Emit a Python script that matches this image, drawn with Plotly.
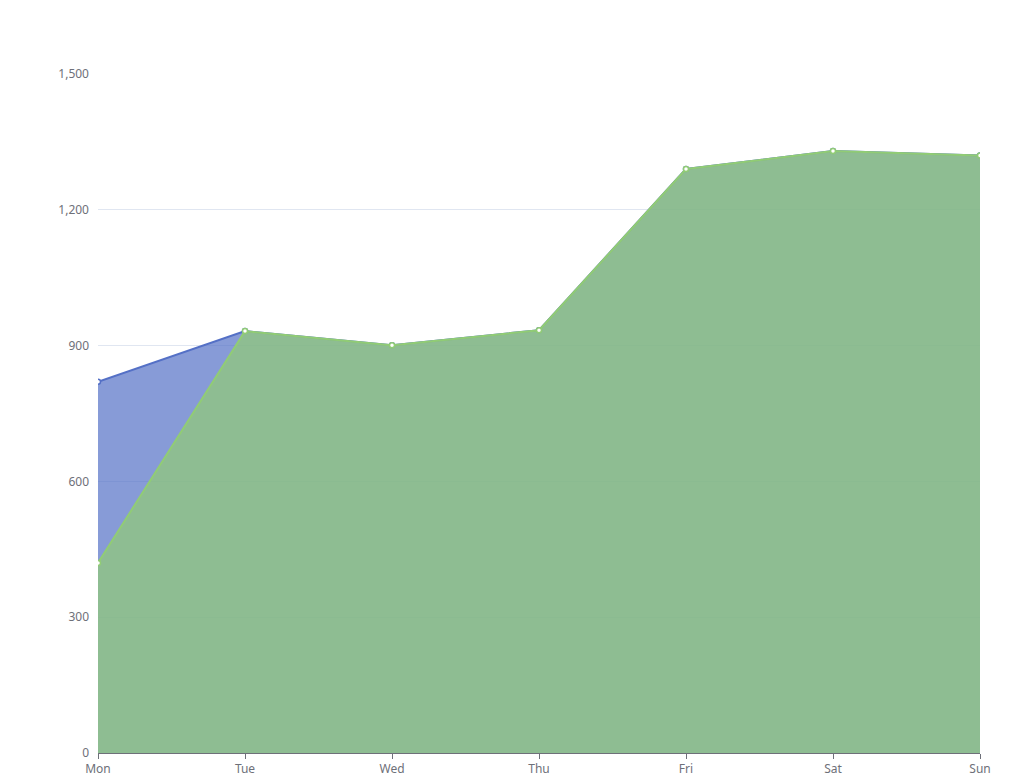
import plotly.graph_objects as go

days = ["Mon", "Tue", "Wed", "Thu", "Fri", "Sat", "Sun"]
series_a = [820, 932, 901, 934, 1290, 1330, 1320]
series_b = [420, 932, 901, 934, 1290, 1330, 1320]

fig = go.Figure()
for vals, col, fillc in [(series_a, "#5470c6", "rgba(84,112,198,0.7)"),
                         (series_b, "#91cc75", "rgba(145,204,117,0.7)")]:
    fig.add_trace(go.Scatter(
        x=days, y=vals, mode="lines+markers", fill="tozeroy", fillcolor=fillc,
        line=dict(color=col, width=2),
        marker=dict(symbol="circle", size=5, color="white", line=dict(color=col, width=1.5)),
        showlegend=False))

fig.update_layout(
    width=1020, height=780, paper_bgcolor="white", plot_bgcolor="white",
    margin=dict(l=90, r=48, t=66, b=35),
    font=dict(family="Noto Sans, sans-serif", size=12, color="#6E7079"),
    xaxis=dict(range=[0, 6], showgrid=False, showline=True, linecolor="#6E7079",
               ticks="outside", ticklen=5, tickcolor="#6E7079", zeroline=False),
    yaxis=dict(range=[0, 1500], tickvals=[0, 300, 600, 900, 1200, 1500],
               tickformat=",", gridcolor="#E0E6F1", zeroline=False, showline=False,
               ticks="", ticklabelstandoff=8),
)
fig.write_html("out.html")
